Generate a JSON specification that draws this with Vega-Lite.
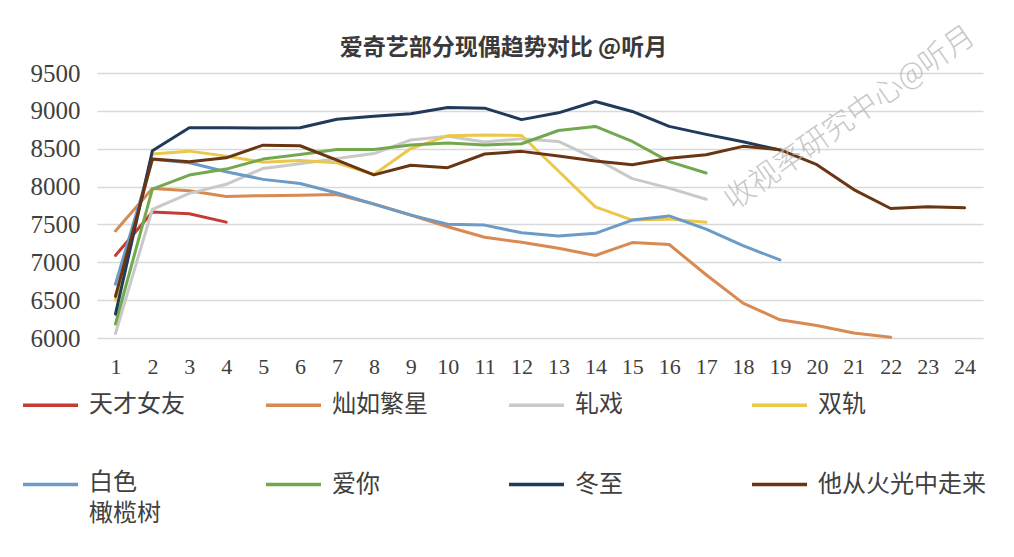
{
  "$schema": "https://vega.github.io/schema/vega-lite/v6.json",
  "width": 886,
  "height": 265,
  "autosize": {"type": "none"},
  "padding": {"left": 97, "top": 73, "right": 31, "bottom": 219},
  "background": "#ffffff",
  "title": {
    "text": "爱奇艺部分现偶趋势对比 @听月",
    "font": "Noto Sans CJK SC",
    "fontSize": 23,
    "fontWeight": "bold",
    "color": "#3a3a3a",
    "anchor": "middle",
    "frame": "bounds",
    "offset": 14,
    "dy": 53
  },
  "config": {
    "view": {"stroke": null},
    "axis": {"gridColor": "#d9d9d9", "gridWidth": 1.5, "domain": false, "ticks": false}
  },
  "datasets": {
    "ratings": [
      {"剧": "天才女友", "集": 1, "值": 7090}, {"剧": "天才女友", "集": 2, "值": 7665}, {"剧": "天才女友", "集": 3, "值": 7640}, {"剧": "天才女友", "集": 4, "值": 7530},
      {"剧": "灿如繁星", "集": 1, "值": 7414}, {"剧": "灿如繁星", "集": 2, "值": 7975}, {"剧": "灿如繁星", "集": 3, "值": 7945}, {"剧": "灿如繁星", "集": 4, "值": 7870},
      {"剧": "灿如繁星", "集": 5, "值": 7880}, {"剧": "灿如繁星", "集": 6, "值": 7885}, {"剧": "灿如繁星", "集": 7, "值": 7895}, {"剧": "灿如繁星", "集": 8, "值": 7770},
      {"剧": "灿如繁星", "集": 9, "值": 7625}, {"剧": "灿如繁星", "集": 10, "值": 7470}, {"剧": "灿如繁星", "集": 11, "值": 7330}, {"剧": "灿如繁星", "集": 12, "值": 7265},
      {"剧": "灿如繁星", "集": 13, "值": 7185}, {"剧": "灿如繁星", "集": 14, "值": 7090}, {"剧": "灿如繁星", "集": 15, "值": 7260}, {"剧": "灿如繁星", "集": 16, "值": 7235},
      {"剧": "灿如繁星", "集": 17, "值": 6835}, {"剧": "灿如繁星", "集": 18, "值": 6460}, {"剧": "灿如繁星", "集": 19, "值": 6240}, {"剧": "灿如繁星", "集": 20, "值": 6165},
      {"剧": "灿如繁星", "集": 21, "值": 6065}, {"剧": "灿如繁星", "集": 22, "值": 6010},
      {"剧": "轧戏", "集": 1, "值": 6060}, {"剧": "轧戏", "集": 2, "值": 7700}, {"剧": "轧戏", "集": 3, "值": 7910}, {"剧": "轧戏", "集": 4, "值": 8030},
      {"剧": "轧戏", "集": 5, "值": 8240}, {"剧": "轧戏", "集": 6, "值": 8300}, {"剧": "轧戏", "集": 7, "值": 8370}, {"剧": "轧戏", "集": 8, "值": 8436},
      {"剧": "轧戏", "集": 9, "值": 8615}, {"剧": "轧戏", "集": 10, "值": 8665}, {"剧": "轧戏", "集": 11, "值": 8590}, {"剧": "轧戏", "集": 12, "值": 8630},
      {"剧": "轧戏", "集": 13, "值": 8596}, {"剧": "轧戏", "集": 14, "值": 8370}, {"剧": "轧戏", "集": 15, "值": 8105}, {"剧": "轧戏", "集": 16, "值": 7980},
      {"剧": "轧戏", "集": 17, "值": 7833},
      {"剧": "双轨", "集": 1, "值": 6500}, {"剧": "双轨", "集": 2, "值": 8430}, {"剧": "双轨", "集": 3, "值": 8468}, {"剧": "双轨", "集": 4, "值": 8402},
      {"剧": "双轨", "集": 5, "值": 8320}, {"剧": "双轨", "集": 6, "值": 8345}, {"剧": "双轨", "集": 7, "值": 8315}, {"剧": "双轨", "集": 8, "值": 8160},
      {"剧": "双轨", "集": 9, "值": 8502}, {"剧": "双轨", "集": 10, "值": 8670}, {"剧": "双轨", "集": 11, "值": 8680}, {"剧": "双轨", "集": 12, "值": 8675},
      {"剧": "双轨", "集": 13, "值": 8206}, {"剧": "双轨", "集": 14, "值": 7732}, {"剧": "双轨", "集": 15, "值": 7557}, {"剧": "双轨", "集": 16, "值": 7570},
      {"剧": "双轨", "集": 17, "值": 7530},
      {"剧": "白色橄榄树", "集": 1, "值": 6710}, {"剧": "白色橄榄树", "集": 2, "值": 8360}, {"剧": "白色橄榄树", "集": 3, "值": 8315}, {"剧": "白色橄榄树", "集": 4, "值": 8196},
      {"剧": "白色橄榄树", "集": 5, "值": 8095}, {"剧": "白色橄榄树", "集": 6, "值": 8040}, {"剧": "白色橄榄树", "集": 7, "值": 7915}, {"剧": "白色橄榄树", "集": 8, "值": 7768},
      {"剧": "白色橄榄树", "集": 9, "值": 7623}, {"剧": "白色橄榄树", "集": 10, "值": 7504}, {"剧": "白色橄榄树", "集": 11, "值": 7491}, {"剧": "白色橄榄树", "集": 12, "值": 7390},
      {"剧": "白色橄榄树", "集": 13, "值": 7346}, {"剧": "白色橄榄树", "集": 14, "值": 7382}, {"剧": "白色橄榄树", "集": 15, "值": 7557}, {"剧": "白色橄榄树", "集": 16, "值": 7612},
      {"剧": "白色橄榄树", "集": 17, "值": 7439}, {"剧": "白色橄榄树", "集": 18, "值": 7219}, {"剧": "白色橄榄树", "集": 19, "值": 7031},
      {"剧": "爱你", "集": 1, "值": 6185}, {"剧": "爱你", "集": 2, "值": 7967}, {"剧": "爱你", "集": 3, "值": 8152}, {"剧": "爱你", "集": 4, "值": 8231},
      {"剧": "爱你", "集": 5, "值": 8363}, {"剧": "爱你", "集": 6, "值": 8425}, {"剧": "爱你", "集": 7, "值": 8490}, {"剧": "爱你", "集": 8, "值": 8490},
      {"剧": "爱你", "集": 9, "值": 8550}, {"剧": "爱你", "集": 10, "值": 8577}, {"剧": "爱你", "集": 11, "值": 8550}, {"剧": "爱你", "集": 12, "值": 8566},
      {"剧": "爱你", "集": 13, "值": 8741}, {"剧": "爱你", "集": 14, "值": 8794}, {"剧": "爱你", "集": 15, "值": 8596}, {"剧": "爱你", "集": 16, "值": 8330},
      {"剧": "爱你", "集": 17, "值": 8180},
      {"剧": "冬至", "集": 1, "值": 6315}, {"剧": "冬至", "集": 2, "值": 8473}, {"剧": "冬至", "集": 3, "值": 8776}, {"剧": "冬至", "集": 4, "值": 8776},
      {"剧": "冬至", "集": 5, "值": 8772}, {"剧": "冬至", "集": 6, "值": 8776}, {"剧": "冬至", "集": 7, "值": 8890}, {"剧": "冬至", "集": 8, "值": 8928},
      {"剧": "冬至", "集": 9, "值": 8962}, {"剧": "冬至", "集": 10, "值": 9045}, {"剧": "冬至", "集": 11, "值": 9036}, {"剧": "冬至", "集": 12, "值": 8884},
      {"剧": "冬至", "集": 13, "值": 8974}, {"剧": "冬至", "集": 14, "值": 9123}, {"剧": "冬至", "集": 15, "值": 8992}, {"剧": "冬至", "集": 16, "值": 8795},
      {"剧": "冬至", "集": 17, "值": 8689}, {"剧": "冬至", "集": 18, "值": 8593}, {"剧": "冬至", "集": 19, "值": 8482},
      {"剧": "他从火光中走来", "集": 1, "值": 6550}, {"剧": "他从火光中走来", "集": 2, "值": 8363}, {"剧": "他从火光中走来", "集": 3, "值": 8328}, {"剧": "他从火光中走来", "集": 4, "值": 8380},
      {"剧": "他从火光中走来", "集": 5, "值": 8547}, {"剧": "他从火光中走来", "集": 6, "值": 8539}, {"剧": "他从火光中走来", "集": 7, "值": 8350}, {"剧": "他从火光中走来", "集": 8, "值": 8155},
      {"剧": "他从火光中走来", "集": 9, "值": 8281}, {"剧": "他从火光中走来", "集": 10, "值": 8250}, {"剧": "他从火光中走来", "集": 11, "值": 8430}, {"剧": "他从火光中走来", "集": 12, "值": 8465},
      {"剧": "他从火光中走来", "集": 13, "值": 8404}, {"剧": "他从火光中走来", "集": 14, "值": 8338}, {"剧": "他从火光中走来", "集": 15, "值": 8289}, {"剧": "他从火光中走来", "集": 16, "值": 8375},
      {"剧": "他从火光中走来", "集": 17, "值": 8421}, {"剧": "他从火光中走来", "集": 18, "值": 8531}, {"剧": "他从火光中走来", "集": 19, "值": 8487}, {"剧": "他从火光中走来", "集": 20, "值": 8289},
      {"剧": "他从火光中走来", "集": 21, "值": 7960}, {"剧": "他从火光中走来", "集": 22, "值": 7710}, {"剧": "他从火光中走来", "集": 23, "值": 7732}, {"剧": "他从火光中走来", "集": 24, "值": 7719}
    ],
    "mark": [{"文字": "收视率研究中心@听月", "集": 20.9, "值": 8900}]
  },
  "layer": [
    {
      "data": {"name": "ratings"},
      "mark": {"type": "line", "strokeWidth": 3, "strokeJoin": "round", "strokeCap": "round"},
      "encoding": {
        "x": {
          "field": "集",
          "type": "quantitative",
          "scale": {"domain": [0.5, 24.5], "nice": false, "zero": false},
          "axis": {
            "title": null,
            "values": [1, 2, 3, 4, 5, 6, 7, 8, 9, 10, 11, 12, 13, 14, 15, 16, 17, 18, 19, 20, 21, 22, 23, 24],
            "tickCount": 30,
            "format": "d",
            "grid": false,
            "labelOverlap": false,
            "labelFlush": false,
            "labelFont": "Liberation Serif",
            "labelFontSize": 22,
            "labelColor": "#404040",
            "labelPadding": 18
          }
        },
        "y": {
          "field": "值",
          "type": "quantitative",
          "scale": {"domain": [6000, 9500], "nice": false, "zero": false},
          "axis": {
            "title": null,
            "values": [6000, 6500, 7000, 7500, 8000, 8500, 9000, 9500],
            "tickCount": 10,
            "format": "d",
            "labelOverlap": false,
            "labelFlush": false,
            "labelFont": "Liberation Serif",
            "labelFontSize": 25,
            "labelColor": "#404040",
            "labelPadding": 17
          }
        },
        "color": {
          "field": "剧",
          "type": "nominal",
          "scale": {
            "domain": ["天才女友", "灿如繁星", "轧戏", "双轨", "白色橄榄树", "爱你", "冬至", "他从火光中走来"],
            "range": ["#c53b36", "#d88a52", "#c9c9c9", "#ebc74a", "#6b9bc6", "#72a94f", "#203a5a", "#6a3512"]
          },
          "legend": {
            "title": null,
            "orient": "none",
            "legendX": -76,
            "legendY": 288,
            "direction": "horizontal",
            "columns": 4,
            "gridAlign": "all",
            "columnPadding": 2,
            "rowPadding": 23,
            "symbolType": "stroke",
            "symbolSize": 3025,
            "symbolStrokeWidth": 3.5,
            "labelFont": "Noto Sans CJK SC",
            "labelFontSize": 24,
            "labelColor": "#404040",
            "labelOffset": 9,
            "labelLimit": 300,
            "labelExpr": "datum.value == '白色橄榄树' ? ['白色', '橄榄树'] : datum.label",
            "encode": {
              "labels": {
                "update": {
                  "baseline": {"signal": "datum.value == '白色橄榄树' ? 'top' : 'middle'"},
                  "dy": {"signal": "datum.value == '白色橄榄树' ? -14 : 0"},
                  "lineHeight": {"value": 31}
                }
              }
            }
          }
        },
        "order": {"field": "集", "type": "quantitative"}
      }
    },
    {
      "data": {"name": "mark"},
      "mark": {
        "type": "text",
        "angle": -35,
        "font": "Noto Sans CJK SC",
        "fontSize": 30,
        "fontWeight": 300,
        "color": "#b5b5b5",
        "opacity": 0.75
      },
      "encoding": {
        "x": {"field": "集", "type": "quantitative"},
        "y": {"field": "值", "type": "quantitative"},
        "text": {"field": "文字"}
      }
    }
  ]
}
